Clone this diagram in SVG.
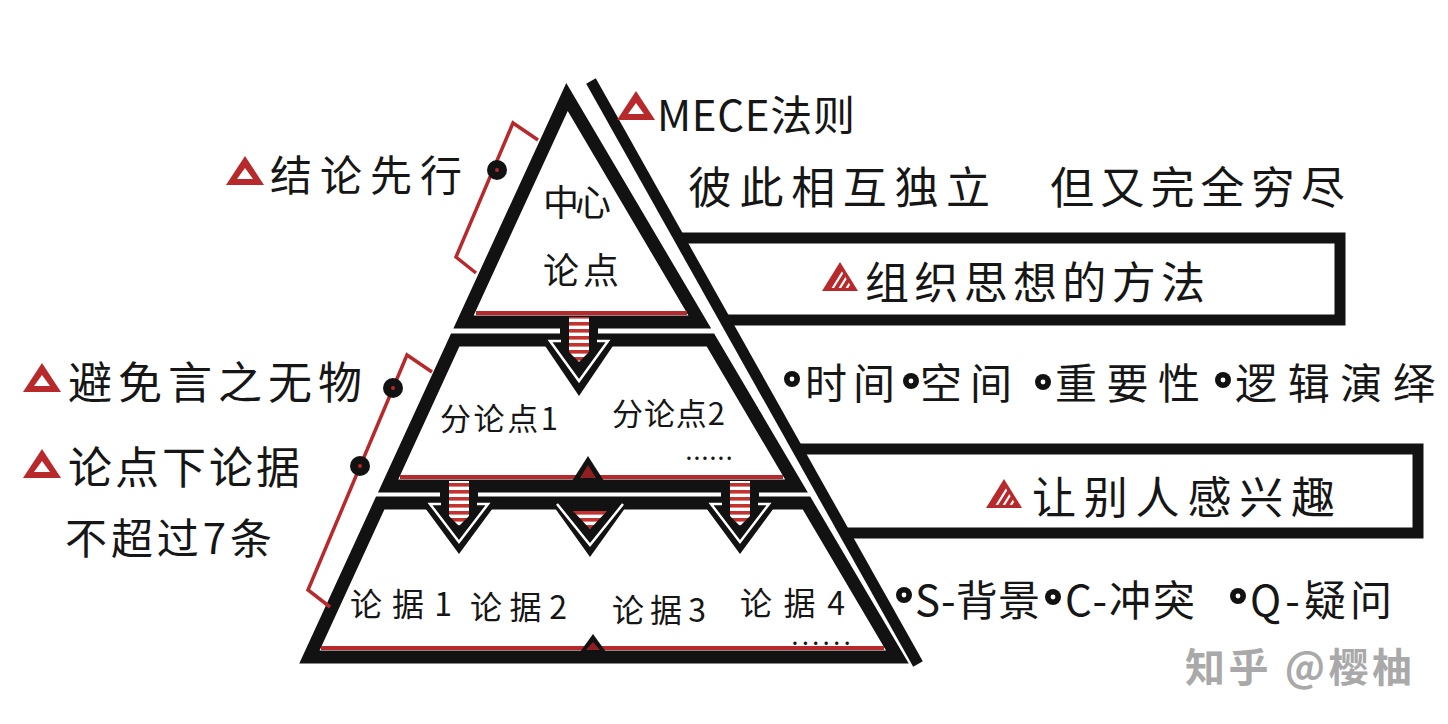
<svg xmlns="http://www.w3.org/2000/svg" width="1448" height="724" viewBox="0 0 1448 724">
<style>
.t{font-family:'Noto Sans CJK SC','Noto Sans',sans-serif;fill:#161616;dominant-baseline:central}
.wm{font-family:'Noto Sans CJK SC','Noto Sans',sans-serif;fill:#a9a9a9;font-weight:bold;dominant-baseline:central}
.sec{fill:#fff;stroke:#121212;stroke-width:13;stroke-linejoin:miter}
.bar{fill:none;stroke:#121212;stroke-width:11;stroke-linejoin:miter}
.red{stroke:#b8292b;stroke-width:4;fill:none}
.brk{stroke:#b8292b;stroke-width:3.5;fill:none;stroke-linejoin:miter}
.wl{stroke:#fff;stroke-width:2.5;fill:none;stroke-linejoin:miter}
.blk{fill:#121212}
</style>
<defs>
<pattern id="stripe" patternUnits="userSpaceOnUse" width="40" height="7">
<rect width="40" height="7" fill="#fff"/><rect width="40" height="3.6" fill="#c2332f"/>
</pattern>
<clipPath id="triClip"><polygon points="1,-7 12,11 -10,11"/></clipPath>
<g id="icon-o"><polygon points="0,-15 19,14 -19,14" fill="#b8292b"/><polygon points="0,-3 8,8 -8,8" fill="#fff"/></g>
<g id="icon-s"><polygon points="0,-15 18,14 -18,14" fill="#b8292b"/><g clip-path="url(#triClip)" stroke="#fff" stroke-width="2.2"><line x1="-16" y1="14" x2="2" y2="-15"/><line x1="-9" y1="14" x2="9" y2="-15"/><line x1="-2" y1="14" x2="16" y2="-15"/><line x1="5" y1="14" x2="23" y2="-15"/></g></g>
<g id="bullet"><circle r="8" fill="#121212"/><circle r="2.4" fill="#fff"/></g>
<g id="dot"><circle r="10" fill="#121212"/><circle r="2" fill="#b8292b"/></g>
</defs>
<rect width="1448" height="724" fill="#fff"/>

<!-- pyramid sections -->
<g id="node-center">
<polygon class="sec" points="567,97 463.5,322 699.8,322"/>
<line class="red" x1="476" y1="313" x2="687" y2="313"/>
<text class="t" x="543" y="200" font-size="36" textLength="68" lengthAdjust="spacing">中心</text>
<text class="t" x="543" y="268" font-size="36" textLength="76" lengthAdjust="spacing">论点</text>
</g>
<g id="node-sub">
<polygon class="sec" points="455.2,340 710.4,340 796.5,486 388.1,486"/>
<line class="red" x1="400" y1="477" x2="783" y2="477"/>
<text class="t" x="440" y="416" font-size="31" textLength="118" lengthAdjust="spacing">分论点1</text>
<text class="t" x="612" y="411" font-size="31" textLength="113" lengthAdjust="spacing">分论点2</text>
<text class="t" x="686" y="452" font-size="18" font-weight="bold" textLength="46" lengthAdjust="spacing">......</text>
</g>
<g id="node-evidence">
<polygon class="sec" points="380.2,503 806.5,503 897.4,657 309.4,657"/>
<line class="red" x1="321" y1="648" x2="884" y2="648"/>
<text class="t" x="350" y="602" font-size="32" textLength="102" lengthAdjust="spacing">论据1</text>
<text class="t" x="470" y="605" font-size="32" textLength="97" lengthAdjust="spacing">论据2</text>
<text class="t" x="612" y="608" font-size="32" textLength="94" lengthAdjust="spacing">论据3</text>
<text class="t" x="740" y="601" font-size="32" textLength="105" lengthAdjust="spacing">论据4</text>
<text class="t" x="792" y="637" font-size="18" font-weight="bold" textLength="58" lengthAdjust="spacing">......</text>
</g>

<!-- connectors: arrows, brackets, divider line -->
<g id="connectors">
<line x1="591" y1="81" x2="918" y2="664" stroke="#121212" stroke-width="11"/>
<!-- arrow center -> sub -->
<rect class="blk" x="560" y="320" width="38" height="22"/>
<polygon class="blk" points="537,334 621,334 579,396"/>
<path class="wl" d="M561,341 H550 L579,381 L608,341 H597"/>
<polygon fill="url(#stripe)" points="569,317 589,317 589,352 579,362 569,352"/>
<!-- arrows sub -> evidence -->
<rect class="blk" x="440" y="483" width="38" height="22"/>
<polygon class="blk" points="417,497 501,497 459,554"/>
<path class="wl" d="M441,504 H430 L459,542 L488,504 H477"/>
<polygon fill="url(#stripe)" points="449,481 469,481 469,516 459,526 449,516"/>
<polygon class="blk" points="547,497 633,497 590,557"/>
<path class="wl" d="M557,504 L590,545 L623,504"/>
<polygon fill="url(#stripe)" points="573,511 607,511 590,529"/>
<rect class="blk" x="721" y="483" width="38" height="22"/>
<polygon class="blk" points="698,497 782,497 740,554"/>
<path class="wl" d="M722,504 H711 L740,542 L769,504 H758"/>
<polygon fill="url(#stripe)" points="730,481 750,481 750,516 740,526 730,516"/>
<!-- small up marks -->
<polygon class="blk" points="572,481 604,481 588,456"/>
<polygon fill="#8e1f22" points="580,478 596,478 588,465"/>
<polygon class="blk" points="580,652 606,652 593,634"/>
<polygon fill="#8e1f22" points="586,650 600,650 593,642"/>
<!-- red brackets -->
<polyline class="brk" points="538,140 513,123 456,257 476,273"/>
<use href="#dot" x="497" y="170"/>
<polyline class="brk" points="432,372 407,355 308,590 330,607"/>
<use href="#dot" x="393" y="388"/>
<use href="#dot" x="360" y="466"/>
</g>

<!-- left labels -->
<g id="label-conclusion">
<use href="#icon-o" x="245" y="171"/>
<text class="t" x="270" y="172" font-size="42" textLength="192" lengthAdjust="spacing">结论先行</text>
</g>
<g id="label-avoid">
<use href="#icon-o" x="42" y="378"/>
<text class="t" x="68" y="380" font-size="44" textLength="294" lengthAdjust="spacing">避免言之无物</text>
</g>
<g id="label-limit">
<use href="#icon-o" x="42" y="464"/>
<text class="t" x="68" y="465" font-size="44" textLength="232" lengthAdjust="spacing">论点下论据</text>
<text class="t" x="65" y="535" font-size="42" textLength="207" lengthAdjust="spacing">不超过7条</text>
</g>

<!-- right labels -->
<g id="label-mece">
<use href="#icon-o" x="636" y="106"/>
<text class="t" x="657" y="112" font-size="42" textLength="198" lengthAdjust="spacing">MECE法则</text>
<text class="t" x="688" y="185" font-size="44" textLength="302" lengthAdjust="spacing">彼此相互独立</text>
<text class="t" x="1050" y="185" font-size="44" textLength="295" lengthAdjust="spacing">但又完全穷尽</text>
</g>
<g id="box-method">
<path class="bar" d="M680,238 H1340 V320 H727"/>
<use href="#icon-s" x="840" y="277"/>
<text class="t" x="865" y="280" font-size="44" textLength="340" lengthAdjust="spacing">组织思想的方法</text>
</g>
<g id="list-method">
<use href="#bullet" x="792" y="379"/>
<text class="t" x="805" y="380" font-size="42" textLength="90" lengthAdjust="spacing">时间</text>
<use href="#bullet" x="911" y="381"/>
<text class="t" x="920" y="380" font-size="42" textLength="92" lengthAdjust="spacing">空间</text>
<use href="#bullet" x="1043" y="382"/>
<text class="t" x="1055" y="380" font-size="42" textLength="145" lengthAdjust="spacing">重要性</text>
<use href="#bullet" x="1223" y="380"/>
<text class="t" x="1235" y="380" font-size="42" textLength="200" lengthAdjust="spacing">逻辑演绎</text>
</g>
<g id="box-interest">
<path class="bar" d="M798,449 H1418 V533 H846"/>
<use href="#icon-s" x="1004" y="494"/>
<text class="t" x="1032" y="495" font-size="44" textLength="303" lengthAdjust="spacing">让别人感兴趣</text>
</g>
<g id="list-scq">
<use href="#bullet" x="904" y="595"/>
<text class="t" x="915" y="597" font-size="42" textLength="125" lengthAdjust="spacing">S-背景</text>
<use href="#bullet" x="1053" y="597"/>
<text class="t" x="1065" y="597" font-size="42" textLength="130" lengthAdjust="spacing">C-冲突</text>
<use href="#bullet" x="1238" y="596"/>
<text class="t" x="1250" y="597" font-size="42" textLength="142" lengthAdjust="spacing">Q-疑问</text>
</g>
<g id="watermark">
<text class="wm" x="1185" y="665" font-size="40" textLength="227" lengthAdjust="spacing">知乎 @樱柚</text>
</g>
</svg>
